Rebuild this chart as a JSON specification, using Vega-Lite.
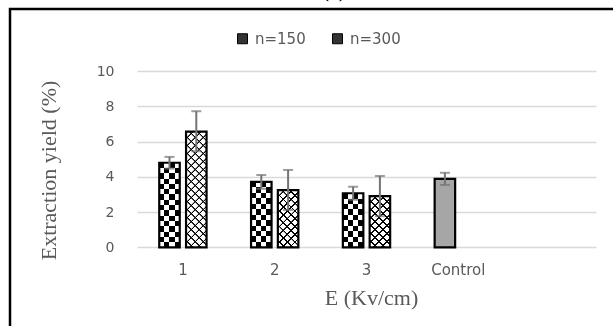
{
  "$schema": "https://vega.github.io/schema/vega-lite/v6.json",
  "width": 608,
  "height": 322,
  "autosize": {"type": "none"},
  "padding": {"left": 10, "top": 9, "right": -5, "bottom": -5},
  "background": "white",
  "config": {"view": {"stroke": "#000", "strokeWidth": 2.5}},
  "title": {"text": "(a)", "font": "Liberation Serif", "fontSize": 20, "fontWeight": "bold", "color": "#000", "anchor": "middle", "frame": "group", "offset": 4, "dx": 20, "dy": 12, "baseline": "alphabetic"},
  "data": {"values": [
    {"E": "1", "series": "n=150", "value": 4.80, "lo": 4.47, "hi": 5.13},
    {"E": "1", "series": "n=300", "value": 6.56, "lo": 5.45, "hi": 7.72},
    {"E": "2", "series": "n=150", "value": 3.71, "lo": 3.32, "hi": 4.10},
    {"E": "2", "series": "n=300", "value": 3.25, "lo": 2.12, "hi": 4.39},
    {"E": "3", "series": "n=150", "value": 3.07, "lo": 2.70, "hi": 3.44},
    {"E": "3", "series": "n=300", "value": 2.91, "lo": 1.77, "hi": 4.05},
    {"E": "Control", "series": "n=150", "value": 3.89, "lo": 3.54, "hi": 4.23}
  ]},
  "encoding": {
    "x": {"field": "E", "type": "nominal", "sort": null,
      "scale": {"domain": ["1", "2", "3", "Control", " "], "range": [127, 586], "paddingInner": 0, "paddingOuter": 0},
      "axis": {"orient": "bottom", "offset": -83.6, "domain": false, "ticks": false, "grid": false, "labelPadding": 15, "labelAngle": 0, "labelFont": "DejaVu Sans", "labelFontSize": 15, "labelColor": "#595959", "title": "E (Kv/cm)", "titleFont": "Liberation Serif", "titleFontSize": 22, "titleFontWeight": "normal", "titleColor": "#595959", "titleX": 361, "titleY": 40, "titleBaseline": "top", "titleAlign": "center"}},
    "xOffset": {"field": "series", "type": "nominal", "scale": {"domain": ["n=150", "n=300"], "paddingInner": 0.235, "paddingOuter": 0.83}},
    "y": {"field": "value", "type": "quantitative", "stack": null, "scale": {"domain": [-4.739, 13.515], "nice": false, "zero": false},
      "axis": {"values": [0, 2, 4, 6, 8, 10], "orient": "left", "offset": -127, "domain": false, "ticks": false, "labelPadding": 23, "labelFont": "DejaVu Sans", "labelFontSize": 14, "labelColor": "#595959", "grid": true, "gridColor": "#d9d9d9", "gridWidth": 1.5, "title": "Extraction yield (%)", "titleFont": "Liberation Serif", "titleFontSize": 22, "titleFontWeight": "normal", "titleColor": "#595959", "titlePadding": 36}}
  },
  "layer": [
    {
      "mark": {"type": "bar"},
      "encoding": {
        "y2": {"datum": 0},
        "fill": {"field": "series", "type": "nominal", "scale": {"domain": ["n=150", "n=300"], "range": ["#333333", "#333333"]},
          "legend": {"orient": "none", "legendX": 225, "legendY": 22, "direction": "horizontal", "title": null, "symbolType": "square", "symbolSize": 100, "symbolStrokeColor": "#000", "symbolStrokeWidth": 1, "labelFont": "DejaVu Sans", "labelFontSize": 15, "labelColor": "#595959", "labelOffset": 5, "columnPadding": 24}}
      }
    },
    {
      "transform": [{"filter": "datum.series === 'n=150' && datum.E !== 'Control'"}],
      "mark": {"type": "bar", "fill": {"gradient": "linear", "x1": 0, "y1": 0, "x2": 1, "y2": 0, "stops": [
        {"offset": 0, "color": "#000"}, {"offset": 0.25, "color": "#000"}, {"offset": 0.25, "color": "#fff"}, {"offset": 0.5, "color": "#fff"},
        {"offset": 0.5, "color": "#000"}, {"offset": 0.75, "color": "#000"}, {"offset": 0.75, "color": "#fff"}, {"offset": 1, "color": "#fff"}]}},
      "encoding": {
        "y2": {"datum": 0}
      }
    },
    {
      "transform": [{"filter": "datum.series === 'n=150' && datum.E !== 'Control'"}],
      "mark": {"type": "bar", "blend": "difference"},
      "encoding": {
        "y2": {"datum": 0},
        "fill": {
          "condition": [
            {"test": "datum.E === '1'", "value": {"gradient": "linear", "x1": 0, "y1": 0, "x2": 0, "y2": 1, "stops": [
              {"offset": 0, "color": "#000"}, {"offset": 0.0625, "color": "#000"}, {"offset": 0.0625, "color": "#fff"}, {"offset": 0.125, "color": "#fff"},
              {"offset": 0.125, "color": "#000"}, {"offset": 0.1875, "color": "#000"}, {"offset": 0.1875, "color": "#fff"}, {"offset": 0.25, "color": "#fff"},
              {"offset": 0.25, "color": "#000"}, {"offset": 0.3125, "color": "#000"}, {"offset": 0.3125, "color": "#fff"}, {"offset": 0.375, "color": "#fff"},
              {"offset": 0.375, "color": "#000"}, {"offset": 0.4375, "color": "#000"}, {"offset": 0.4375, "color": "#fff"}, {"offset": 0.5, "color": "#fff"},
              {"offset": 0.5, "color": "#000"}, {"offset": 0.5625, "color": "#000"}, {"offset": 0.5625, "color": "#fff"}, {"offset": 0.625, "color": "#fff"},
              {"offset": 0.625, "color": "#000"}, {"offset": 0.6875, "color": "#000"}, {"offset": 0.6875, "color": "#fff"}, {"offset": 0.75, "color": "#fff"},
              {"offset": 0.75, "color": "#000"}, {"offset": 0.8125, "color": "#000"}, {"offset": 0.8125, "color": "#fff"}, {"offset": 0.875, "color": "#fff"},
              {"offset": 0.875, "color": "#000"}, {"offset": 0.9375, "color": "#000"}, {"offset": 0.9375, "color": "#fff"}, {"offset": 1, "color": "#fff"}]}},
            {"test": "datum.E === '2'", "value": {"gradient": "linear", "x1": 0, "y1": 0, "x2": 0, "y2": 1, "stops": [
              {"offset": 0, "color": "#000"}, {"offset": 0.0833, "color": "#000"}, {"offset": 0.0833, "color": "#fff"}, {"offset": 0.1667, "color": "#fff"},
              {"offset": 0.1667, "color": "#000"}, {"offset": 0.25, "color": "#000"}, {"offset": 0.25, "color": "#fff"}, {"offset": 0.3333, "color": "#fff"},
              {"offset": 0.3333, "color": "#000"}, {"offset": 0.4167, "color": "#000"}, {"offset": 0.4167, "color": "#fff"}, {"offset": 0.5, "color": "#fff"},
              {"offset": 0.5, "color": "#000"}, {"offset": 0.5833, "color": "#000"}, {"offset": 0.5833, "color": "#fff"}, {"offset": 0.6667, "color": "#fff"},
              {"offset": 0.6667, "color": "#000"}, {"offset": 0.75, "color": "#000"}, {"offset": 0.75, "color": "#fff"}, {"offset": 0.8333, "color": "#fff"},
              {"offset": 0.8333, "color": "#000"}, {"offset": 0.9167, "color": "#000"}, {"offset": 0.9167, "color": "#fff"}, {"offset": 1, "color": "#fff"}]}}
          ],
          "value": {"gradient": "linear", "x1": 0, "y1": 0, "x2": 0, "y2": 1, "stops": [
            {"offset": 0, "color": "#000"}, {"offset": 0.1, "color": "#000"}, {"offset": 0.1, "color": "#fff"}, {"offset": 0.2, "color": "#fff"},
            {"offset": 0.2, "color": "#000"}, {"offset": 0.3, "color": "#000"}, {"offset": 0.3, "color": "#fff"}, {"offset": 0.4, "color": "#fff"},
            {"offset": 0.4, "color": "#000"}, {"offset": 0.5, "color": "#000"}, {"offset": 0.5, "color": "#fff"}, {"offset": 0.6, "color": "#fff"},
            {"offset": 0.6, "color": "#000"}, {"offset": 0.7, "color": "#000"}, {"offset": 0.7, "color": "#fff"}, {"offset": 0.8, "color": "#fff"},
            {"offset": 0.8, "color": "#000"}, {"offset": 0.9, "color": "#000"}, {"offset": 0.9, "color": "#fff"}, {"offset": 1, "color": "#fff"}]}
        }
      }
    },
    {
      "transform": [{"filter": "datum.series === 'n=300'"}],
      "mark": {"type": "bar"},
      "encoding": {
        "y2": {"datum": 0},
        "fill": {
          "condition": [
            {"test": "datum.E === '1'", "value": {"gradient": "linear", "x1": 0, "y1": 0, "x2": 0.2022, "y2": 1.1414, "stops": [
              {"offset": 0, "color": "#fff"}, {"offset": 0.0441, "color": "#fff"}, {"offset": 0.0471, "color": "#000"}, {"offset": 0.0588, "color": "#000"},
              {"offset": 0.0588, "color": "#fff"}, {"offset": 0.1029, "color": "#fff"}, {"offset": 0.1059, "color": "#000"}, {"offset": 0.1176, "color": "#000"},
              {"offset": 0.1176, "color": "#fff"}, {"offset": 0.1618, "color": "#fff"}, {"offset": 0.1647, "color": "#000"}, {"offset": 0.1765, "color": "#000"},
              {"offset": 0.1765, "color": "#fff"}, {"offset": 0.2206, "color": "#fff"}, {"offset": 0.2235, "color": "#000"}, {"offset": 0.2353, "color": "#000"},
              {"offset": 0.2353, "color": "#fff"}, {"offset": 0.2794, "color": "#fff"}, {"offset": 0.2824, "color": "#000"}, {"offset": 0.2941, "color": "#000"},
              {"offset": 0.2941, "color": "#fff"}, {"offset": 0.3382, "color": "#fff"}, {"offset": 0.3412, "color": "#000"}, {"offset": 0.3529, "color": "#000"},
              {"offset": 0.3529, "color": "#fff"}, {"offset": 0.3971, "color": "#fff"}, {"offset": 0.4, "color": "#000"}, {"offset": 0.4118, "color": "#000"},
              {"offset": 0.4118, "color": "#fff"}, {"offset": 0.4559, "color": "#fff"}, {"offset": 0.4588, "color": "#000"}, {"offset": 0.4706, "color": "#000"},
              {"offset": 0.4706, "color": "#fff"}, {"offset": 0.5147, "color": "#fff"}, {"offset": 0.5176, "color": "#000"}, {"offset": 0.5294, "color": "#000"},
              {"offset": 0.5294, "color": "#fff"}, {"offset": 0.5735, "color": "#fff"}, {"offset": 0.5765, "color": "#000"}, {"offset": 0.5882, "color": "#000"},
              {"offset": 0.5882, "color": "#fff"}, {"offset": 0.6324, "color": "#fff"}, {"offset": 0.6353, "color": "#000"}, {"offset": 0.6471, "color": "#000"},
              {"offset": 0.6471, "color": "#fff"}, {"offset": 0.6912, "color": "#fff"}, {"offset": 0.6941, "color": "#000"}, {"offset": 0.7059, "color": "#000"},
              {"offset": 0.7059, "color": "#fff"}, {"offset": 0.75, "color": "#fff"}, {"offset": 0.7529, "color": "#000"}, {"offset": 0.7647, "color": "#000"},
              {"offset": 0.7647, "color": "#fff"}, {"offset": 0.8088, "color": "#fff"}, {"offset": 0.8118, "color": "#000"}, {"offset": 0.8235, "color": "#000"},
              {"offset": 0.8235, "color": "#fff"}, {"offset": 0.8676, "color": "#fff"}, {"offset": 0.8706, "color": "#000"}, {"offset": 0.8824, "color": "#000"},
              {"offset": 0.8824, "color": "#fff"}, {"offset": 0.9265, "color": "#fff"}, {"offset": 0.9294, "color": "#000"}, {"offset": 0.9412, "color": "#000"},
              {"offset": 0.9412, "color": "#fff"}, {"offset": 0.9853, "color": "#fff"}, {"offset": 0.9882, "color": "#000"}, {"offset": 1, "color": "#000"}]}},
            {"test": "datum.E === '2'", "value": {"gradient": "linear", "x1": 0, "y1": 0, "x2": 0.4306, "y2": 1.2037, "stops": [
              {"offset": 0, "color": "#fff"}, {"offset": 0.075, "color": "#fff"}, {"offset": 0.08, "color": "#000"}, {"offset": 0.1, "color": "#000"},
              {"offset": 0.1, "color": "#fff"}, {"offset": 0.175, "color": "#fff"}, {"offset": 0.18, "color": "#000"}, {"offset": 0.2, "color": "#000"},
              {"offset": 0.2, "color": "#fff"}, {"offset": 0.275, "color": "#fff"}, {"offset": 0.28, "color": "#000"}, {"offset": 0.3, "color": "#000"},
              {"offset": 0.3, "color": "#fff"}, {"offset": 0.375, "color": "#fff"}, {"offset": 0.38, "color": "#000"}, {"offset": 0.4, "color": "#000"},
              {"offset": 0.4, "color": "#fff"}, {"offset": 0.475, "color": "#fff"}, {"offset": 0.48, "color": "#000"}, {"offset": 0.5, "color": "#000"},
              {"offset": 0.5, "color": "#fff"}, {"offset": 0.575, "color": "#fff"}, {"offset": 0.58, "color": "#000"}, {"offset": 0.6, "color": "#000"},
              {"offset": 0.6, "color": "#fff"}, {"offset": 0.675, "color": "#fff"}, {"offset": 0.68, "color": "#000"}, {"offset": 0.7, "color": "#000"},
              {"offset": 0.7, "color": "#fff"}, {"offset": 0.775, "color": "#fff"}, {"offset": 0.78, "color": "#000"}, {"offset": 0.8, "color": "#000"},
              {"offset": 0.8, "color": "#fff"}, {"offset": 0.875, "color": "#fff"}, {"offset": 0.88, "color": "#000"}, {"offset": 0.9, "color": "#000"},
              {"offset": 0.9, "color": "#fff"}, {"offset": 0.975, "color": "#fff"}, {"offset": 0.98, "color": "#000"}, {"offset": 1, "color": "#000"}]}}
          ],
          "value": {"gradient": "linear", "x1": 0, "y1": 0, "x2": 0.4823, "y2": 1.2069, "stops": [
            {"offset": 0, "color": "#fff"}, {"offset": 0.0833, "color": "#fff"}, {"offset": 0.0889, "color": "#000"}, {"offset": 0.1111, "color": "#000"},
            {"offset": 0.1111, "color": "#fff"}, {"offset": 0.1944, "color": "#fff"}, {"offset": 0.2, "color": "#000"}, {"offset": 0.2222, "color": "#000"},
            {"offset": 0.2222, "color": "#fff"}, {"offset": 0.3056, "color": "#fff"}, {"offset": 0.3111, "color": "#000"}, {"offset": 0.3333, "color": "#000"},
            {"offset": 0.3333, "color": "#fff"}, {"offset": 0.4167, "color": "#fff"}, {"offset": 0.4222, "color": "#000"}, {"offset": 0.4444, "color": "#000"},
            {"offset": 0.4444, "color": "#fff"}, {"offset": 0.5278, "color": "#fff"}, {"offset": 0.5333, "color": "#000"}, {"offset": 0.5556, "color": "#000"},
            {"offset": 0.5556, "color": "#fff"}, {"offset": 0.6389, "color": "#fff"}, {"offset": 0.6444, "color": "#000"}, {"offset": 0.6667, "color": "#000"},
            {"offset": 0.6667, "color": "#fff"}, {"offset": 0.75, "color": "#fff"}, {"offset": 0.7556, "color": "#000"}, {"offset": 0.7778, "color": "#000"},
            {"offset": 0.7778, "color": "#fff"}, {"offset": 0.8611, "color": "#fff"}, {"offset": 0.8667, "color": "#000"}, {"offset": 0.8889, "color": "#000"},
            {"offset": 0.8889, "color": "#fff"}, {"offset": 0.9722, "color": "#fff"}, {"offset": 0.9778, "color": "#000"}, {"offset": 1, "color": "#000"}]}
        }
      }
    },
    {
      "transform": [{"filter": "datum.series === 'n=300'"}],
      "mark": {"type": "bar", "blend": "multiply"},
      "encoding": {
        "y2": {"datum": 0},
        "fill": {
          "condition": [
            {"test": "datum.E === '1'", "value": {"gradient": "linear", "x1": 0, "y1": 1, "x2": 0.2022, "y2": -0.1414, "stops": [
              {"offset": 0, "color": "#fff"}, {"offset": 0.0441, "color": "#fff"}, {"offset": 0.0471, "color": "#000"}, {"offset": 0.0588, "color": "#000"},
              {"offset": 0.0588, "color": "#fff"}, {"offset": 0.1029, "color": "#fff"}, {"offset": 0.1059, "color": "#000"}, {"offset": 0.1176, "color": "#000"},
              {"offset": 0.1176, "color": "#fff"}, {"offset": 0.1618, "color": "#fff"}, {"offset": 0.1647, "color": "#000"}, {"offset": 0.1765, "color": "#000"},
              {"offset": 0.1765, "color": "#fff"}, {"offset": 0.2206, "color": "#fff"}, {"offset": 0.2235, "color": "#000"}, {"offset": 0.2353, "color": "#000"},
              {"offset": 0.2353, "color": "#fff"}, {"offset": 0.2794, "color": "#fff"}, {"offset": 0.2824, "color": "#000"}, {"offset": 0.2941, "color": "#000"},
              {"offset": 0.2941, "color": "#fff"}, {"offset": 0.3382, "color": "#fff"}, {"offset": 0.3412, "color": "#000"}, {"offset": 0.3529, "color": "#000"},
              {"offset": 0.3529, "color": "#fff"}, {"offset": 0.3971, "color": "#fff"}, {"offset": 0.4, "color": "#000"}, {"offset": 0.4118, "color": "#000"},
              {"offset": 0.4118, "color": "#fff"}, {"offset": 0.4559, "color": "#fff"}, {"offset": 0.4588, "color": "#000"}, {"offset": 0.4706, "color": "#000"},
              {"offset": 0.4706, "color": "#fff"}, {"offset": 0.5147, "color": "#fff"}, {"offset": 0.5176, "color": "#000"}, {"offset": 0.5294, "color": "#000"},
              {"offset": 0.5294, "color": "#fff"}, {"offset": 0.5735, "color": "#fff"}, {"offset": 0.5765, "color": "#000"}, {"offset": 0.5882, "color": "#000"},
              {"offset": 0.5882, "color": "#fff"}, {"offset": 0.6324, "color": "#fff"}, {"offset": 0.6353, "color": "#000"}, {"offset": 0.6471, "color": "#000"},
              {"offset": 0.6471, "color": "#fff"}, {"offset": 0.6912, "color": "#fff"}, {"offset": 0.6941, "color": "#000"}, {"offset": 0.7059, "color": "#000"},
              {"offset": 0.7059, "color": "#fff"}, {"offset": 0.75, "color": "#fff"}, {"offset": 0.7529, "color": "#000"}, {"offset": 0.7647, "color": "#000"},
              {"offset": 0.7647, "color": "#fff"}, {"offset": 0.8088, "color": "#fff"}, {"offset": 0.8118, "color": "#000"}, {"offset": 0.8235, "color": "#000"},
              {"offset": 0.8235, "color": "#fff"}, {"offset": 0.8676, "color": "#fff"}, {"offset": 0.8706, "color": "#000"}, {"offset": 0.8824, "color": "#000"},
              {"offset": 0.8824, "color": "#fff"}, {"offset": 0.9265, "color": "#fff"}, {"offset": 0.9294, "color": "#000"}, {"offset": 0.9412, "color": "#000"},
              {"offset": 0.9412, "color": "#fff"}, {"offset": 0.9853, "color": "#fff"}, {"offset": 0.9882, "color": "#000"}, {"offset": 1, "color": "#000"}]}},
            {"test": "datum.E === '2'", "value": {"gradient": "linear", "x1": 0, "y1": 1, "x2": 0.4306, "y2": -0.2037, "stops": [
              {"offset": 0, "color": "#fff"}, {"offset": 0.075, "color": "#fff"}, {"offset": 0.08, "color": "#000"}, {"offset": 0.1, "color": "#000"},
              {"offset": 0.1, "color": "#fff"}, {"offset": 0.175, "color": "#fff"}, {"offset": 0.18, "color": "#000"}, {"offset": 0.2, "color": "#000"},
              {"offset": 0.2, "color": "#fff"}, {"offset": 0.275, "color": "#fff"}, {"offset": 0.28, "color": "#000"}, {"offset": 0.3, "color": "#000"},
              {"offset": 0.3, "color": "#fff"}, {"offset": 0.375, "color": "#fff"}, {"offset": 0.38, "color": "#000"}, {"offset": 0.4, "color": "#000"},
              {"offset": 0.4, "color": "#fff"}, {"offset": 0.475, "color": "#fff"}, {"offset": 0.48, "color": "#000"}, {"offset": 0.5, "color": "#000"},
              {"offset": 0.5, "color": "#fff"}, {"offset": 0.575, "color": "#fff"}, {"offset": 0.58, "color": "#000"}, {"offset": 0.6, "color": "#000"},
              {"offset": 0.6, "color": "#fff"}, {"offset": 0.675, "color": "#fff"}, {"offset": 0.68, "color": "#000"}, {"offset": 0.7, "color": "#000"},
              {"offset": 0.7, "color": "#fff"}, {"offset": 0.775, "color": "#fff"}, {"offset": 0.78, "color": "#000"}, {"offset": 0.8, "color": "#000"},
              {"offset": 0.8, "color": "#fff"}, {"offset": 0.875, "color": "#fff"}, {"offset": 0.88, "color": "#000"}, {"offset": 0.9, "color": "#000"},
              {"offset": 0.9, "color": "#fff"}, {"offset": 0.975, "color": "#fff"}, {"offset": 0.98, "color": "#000"}, {"offset": 1, "color": "#000"}]}}
          ],
          "value": {"gradient": "linear", "x1": 0, "y1": 1, "x2": 0.4823, "y2": -0.2069, "stops": [
            {"offset": 0, "color": "#fff"}, {"offset": 0.0833, "color": "#fff"}, {"offset": 0.0889, "color": "#000"}, {"offset": 0.1111, "color": "#000"},
            {"offset": 0.1111, "color": "#fff"}, {"offset": 0.1944, "color": "#fff"}, {"offset": 0.2, "color": "#000"}, {"offset": 0.2222, "color": "#000"},
            {"offset": 0.2222, "color": "#fff"}, {"offset": 0.3056, "color": "#fff"}, {"offset": 0.3111, "color": "#000"}, {"offset": 0.3333, "color": "#000"},
            {"offset": 0.3333, "color": "#fff"}, {"offset": 0.4167, "color": "#fff"}, {"offset": 0.4222, "color": "#000"}, {"offset": 0.4444, "color": "#000"},
            {"offset": 0.4444, "color": "#fff"}, {"offset": 0.5278, "color": "#fff"}, {"offset": 0.5333, "color": "#000"}, {"offset": 0.5556, "color": "#000"},
            {"offset": 0.5556, "color": "#fff"}, {"offset": 0.6389, "color": "#fff"}, {"offset": 0.6444, "color": "#000"}, {"offset": 0.6667, "color": "#000"},
            {"offset": 0.6667, "color": "#fff"}, {"offset": 0.75, "color": "#fff"}, {"offset": 0.7556, "color": "#000"}, {"offset": 0.7778, "color": "#000"},
            {"offset": 0.7778, "color": "#fff"}, {"offset": 0.8611, "color": "#fff"}, {"offset": 0.8667, "color": "#000"}, {"offset": 0.8889, "color": "#000"},
            {"offset": 0.8889, "color": "#fff"}, {"offset": 0.9722, "color": "#fff"}, {"offset": 0.9778, "color": "#000"}, {"offset": 1, "color": "#000"}]}
        }
      }
    },
    {
      "transform": [{"filter": "datum.E === 'Control'"}],
      "mark": {"type": "bar", "fill": "#a6a6a6"},
      "encoding": {
        "y2": {"datum": 0}
      }
    },
    {
      "mark": {"type": "bar", "fillOpacity": 0, "stroke": "#000", "strokeWidth": 2.2},
      "encoding": {
        "y2": {"datum": 0}
      }
    },
    {
      "mark": {"type": "rule", "color": "#737373", "strokeWidth": 2},
      "encoding": {
        "y": {"field": "lo", "type": "quantitative", "scale": {"domain": [-4.739, 13.515], "nice": false, "zero": false}},
        "y2": {"field": "hi"}
      }
    },
    {
      "mark": {"type": "tick", "color": "#737373", "thickness": 2, "size": 10, "orient": "horizontal"},
      "encoding": {
        "y": {"field": "hi", "type": "quantitative", "scale": {"domain": [-4.739, 13.515], "nice": false, "zero": false}}
      }
    },
    {
      "mark": {"type": "tick", "color": "#737373", "thickness": 2, "size": 10, "orient": "horizontal"},
      "encoding": {
        "y": {"field": "lo", "type": "quantitative", "scale": {"domain": [-4.739, 13.515], "nice": false, "zero": false}}
      }
    }
  ]
}
